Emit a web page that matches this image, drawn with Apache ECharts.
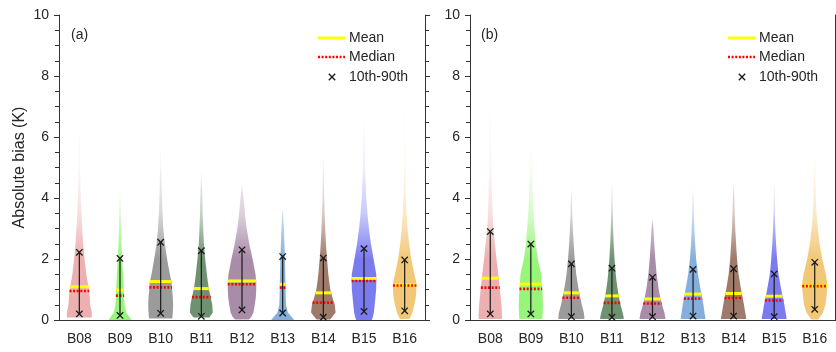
<!DOCTYPE html>
<html><head><meta charset="utf-8">
<script src="https://cdn.jsdelivr.net/npm/echarts@6/dist/echarts.min.js"></script>
<style>html,body{margin:0;padding:0;background:#fff}#c{width:836px;height:352px}</style>
</head><body><div id="c"></div><script>
// ---------------- data ----------------
const categories = ['B08','B09','B10','B11','B12','B13','B14','B15','B16'];
const yMin = 0, yMax = 10, yInterval = 2;
const bandColors = ['#ecb0b0','#98f57c','#9b9b9b','#6e9270','#a98ca8','#85aedb','#9e7a6a','#7b7bf0','#f2c878'];
// y levels at which violin densities were read
const densityLevels = [0,0.1,0.25,0.5,0.75,1,1.25,1.5,2,2.5,3,3.5,4,5,6,7,8];

// panel (a)
const aP10    = [0.20,0.15,0.22,0.12,0.33,0.23,0.09,0.28,0.30];
const aP90    = [2.22,2.02,2.55,2.27,2.30,2.08,2.03,2.34,1.97];
const aMean   = [1.09,0.98,1.26,1.03,1.28,1.17,0.89,1.36,1.15];
const aMedian = [0.95,0.80,1.07,0.75,1.17,1.06,0.57,1.28,1.13];
const aMin    = [0.08,0.00,0.05,0.08,0.02,0.00,0.02,0.00,0.03];
const aMax    = [6.1,4.4,5.7,4.9,4.4,3.6,5.4,6.6,7.4];
const aDensity = [
  [12,12,12,10.5,10,9.3,8,6.7,5,3.7,2.8,2,1.3,0.6,0.3],
  [11,9,6,4.4,4,3.8,3.4,3,2,1.5,1,0.7,0.4],
  [11,11.3,11.7,12,11.7,11,10.5,8.8,6.2,4,2.5,1.8,1.2,0.5],
  [7,8,11,10.5,9,7.3,6.3,5.3,3.7,2.5,1.8,1.3,1],
  [6,9,11,12.3,13.3,13.7,13.7,13,10.2,7,4.5,2.8,1.5],
  [11,8.7,5,3.2,3,2.8,2.7,2.5,2.2,1.7,1.2,0.5],
  [6,8.5,11.8,11,8.7,6.7,5.7,4.8,3.5,2.5,1.8,1.3,0.8,0.4],
  [7.5,8.5,9.5,10.3,11,11.7,11.9,11.8,9.2,6.7,4.7,3.3,2.2,1,0.5],
  [4,5.5,7.5,9.3,10.7,11.3,11.2,9.3,6.3,4.3,2.8,1.8,1.2,0.6,0.3,0.15]
];

// panel (b)
const bP10    = [0.20,0.20,0.11,0.09,0.11,0.13,0.13,0.11,0.35];
const bP90    = [2.90,2.49,1.84,1.70,1.40,1.66,1.68,1.51,1.89];
const bMean   = [1.37,1.18,0.89,0.79,0.69,0.85,0.87,0.78,1.12];
const bMedian = [1.06,1.02,0.73,0.56,0.54,0.70,0.72,0.64,1.11];
const bMin    = [0.03,0.03,0.03,0.03,0.03,0.03,0.03,0.03,0.02];
const bMax    = [8.0,5.6,4.3,4.6,3.3,4.4,4.5,4.5,5.5];
const bDensity = [
  [11.3,11.3,11.2,10.8,10,9.3,8.5,7.8,6,4.5,3,2.2,1.7,1,0.6,0.3],
  [11,11.2,11.5,11.7,11.5,11,10.5,10,6.7,4.7,3.5,2.5,1.8,0.8],
  [12.5,12.5,12,10,8.5,7,5.8,4.7,3.2,2.2,1.4,0.8,0.4],
  [11.3,11.3,10.3,8.3,6.8,5.5,4.5,3.7,2.5,1.7,1.1,0.7,0.4],
  [12.5,12.3,11.5,9.2,7.5,6,5,4,2.7,1.7,1],
  [12,11.8,11,10,8.6,7.3,6,4.7,3,2,1.3,0.8,0.4],
  [12.2,12,11.2,10,8.6,7.2,6,4.8,3.3,2.4,1.6,1.1,0.7],
  [12,11.8,11,9.8,8.3,6.8,5.5,4.2,2.8,1.8,1.1,0.6,0.35],
  [3,5,8,10.3,11.3,12,12,10.7,7.3,4.7,3,1.8,1.1,0.5]
];

// ---------------- helpers ----------------
const FONT = 'Liberation Sans, Arial, Helvetica, sans-serif';
const TXT = '#262626';
const AXC = '#333333';
const DMAX = 13.7;          // largest density value -> widest violin
const MAX_HALF = 0.35;      // widest half-width as a fraction of the band

function hexToRgb(h){ const n=parseInt(h.slice(1),16); return [(n>>16)&255,(n>>8)&255,n&255]; }
function rgba(h,a){ const c=hexToRgb(h); return 'rgba('+c[0]+','+c[1]+','+c[2]+','+a+')'; }

function profile(dens, minV, maxV){
  const pts = [];
  for (let k=0;k<dens.length;k++){ if (densityLevels[k] < maxV) pts.push([densityLevels[k], dens[k]]); }
  pts.push([maxV, 0]);
  return pts;
}
function densAt(pts, y){
  if (y <= pts[0][0]) return pts[0][1];
  for (let k=1;k<pts.length;k++){
    if (y <= pts[k][0]){
      const t=(y-pts[k-1][0])/(pts[k][0]-pts[k-1][0]);
      return pts[k-1][1]+t*(pts[k][1]-pts[k-1][1]);
    }
  }
  return 0;
}

function makeRender(P10,P90,MEAN,MED,MIN,MAX,DENS){
  return function(params, api){
    const i = params.dataIndex;
    const idx = api.value(0);
    const cx = api.coord([idx, 0])[0];
    const band = api.size([1, 0])[0];
    const scale = MAX_HALF*band/DMAX;
    const pts = profile(DENS[i], MIN[i], MAX[i]);
    const ys = [MIN[i]];
    pts.forEach(p => { if (p[0] > MIN[i]) ys.push(p[0]); });
    const right = [], left = [];
    ys.forEach(y => {
      const hw = densAt(pts, y)*scale;
      const py = api.coord([idx, y])[1];
      right.push([cx+hw, py]);
      left.unshift([cx-hw, py]);
    });
    const col = bandColors[i];
    const gy0 = api.coord([idx, 2.0])[1], gy1 = api.coord([idx, 8.0])[1];
    const fill = new echarts.graphic.LinearGradient(0, gy0, 0, gy1, [
      {offset:0, color: rgba(col,1)},
      {offset:0.25, color: rgba(col,0.4)},
      {offset:0.5, color: rgba(col,0.13)},
      {offset:1, color: rgba(col,0.02)}
    ], true);
    const children = [{
      type:'polygon', shape:{points: right.concat(left)}, style:{fill: fill}, silent:true
    }];
    const hline = (v, style) => {
      const hw = densAt(pts, v)*scale;
      const py = api.coord([idx, v])[1];
      children.push({type:'line', shape:{x1:cx-hw, y1:py, x2:cx+hw, y2:py}, style: style, silent:true});
    };
    hline(MEAN[i], {stroke:'#ffff00', lineWidth:3});
    hline(MED[i], {stroke:'#ff0000', lineWidth:2.6, lineDash:[2,1.6]});
    const y10 = api.coord([idx, P10[i]])[1], y90 = api.coord([idx, P90[i]])[1];
    children.push({type:'line', shape:{x1:cx, y1:y10, x2:cx, y2:y90}, style:{stroke:'#1a1a1a', lineWidth:1.2}, silent:true});
    const s = 3.2;
    [y10, y90].forEach(py => {
      children.push({type:'line', shape:{x1:cx-s, y1:py-s, x2:cx+s, y2:py+s}, style:{stroke:'#1a1a1a', lineWidth:1.3}, silent:true});
      children.push({type:'line', shape:{x1:cx-s, y1:py+s, x2:cx+s, y2:py-s}, style:{stroke:'#1a1a1a', lineWidth:1.3}, silent:true});
    });
    return {type:'group', children: children};
  };
}

function xAxes(gi){
  return [{
    type:'category', gridIndex:gi, data:categories, position:'bottom', boundaryGap:true,
    axisLine:{lineStyle:{color:AXC}}, axisTick:{alignWithLabel:true, length:5, lineStyle:{color:AXC}},
    axisLabel:{color:TXT, fontSize:14, fontFamily:FONT, margin:12}, splitLine:{show:false}
  },{
    type:'category', gridIndex:gi, data:categories, position:'top', boundaryGap:true,
    axisLine:{lineStyle:{color:AXC}}, axisTick:{alignWithLabel:true, length:5, lineStyle:{color:AXC}},
    axisLabel:{show:false}, splitLine:{show:false}
  }];
}
function yAxes(gi, withName){
  const base = {
    type:'value', gridIndex:gi, min:yMin, max:yMax, interval:yInterval,
    axisLine:{show:true, lineStyle:{color:AXC}}, axisTick:{show:true, length:5, lineStyle:{color:AXC}},
    minorTick:{show:true, splitNumber:4, length:4, lineStyle:{color:AXC}},
    splitLine:{show:false}
  };
  const left = Object.assign({}, base, {position:'left',
    axisLabel:{color:TXT, fontSize:14, fontFamily:FONT, margin:10}});
  if (withName){
    Object.assign(left, {name:'Absolute bias (K)', nameLocation:'middle', nameGap:31,
      nameTextStyle:{color:TXT, fontSize:16, fontFamily:FONT}});
  }
  const right = Object.assign({}, base, {position:'right', axisLabel:{show:false}});
  return [left, right];
}

function legendGraphics(dx){
  const g = [];
  g.push({type:'line', shape:{x1:318+dx, y1:38, x2:345+dx, y2:38}, style:{stroke:'#ffff00', lineWidth:3}});
  g.push({type:'line', shape:{x1:318+dx, y1:57, x2:345+dx, y2:57}, style:{stroke:'#ff0000', lineWidth:2.6, lineDash:[2,1.6]}});
  const cx = 332+dx, cy = 77, s = 3.2;
  g.push({type:'line', shape:{x1:cx-s, y1:cy-s, x2:cx+s, y2:cy+s}, style:{stroke:'#1a1a1a', lineWidth:1.3}});
  g.push({type:'line', shape:{x1:cx-s, y1:cy+s, x2:cx+s, y2:cy-s}, style:{stroke:'#1a1a1a', lineWidth:1.3}});
  [['Mean',38],['Median',57],['10th-90th',77]].forEach(t => {
    g.push({type:'text', x:349+dx, y:t[1], style:{text:t[0], fill:TXT, fontSize:14, fontFamily:FONT, verticalAlign:'middle', align:'left'}});
  });
  return g;
}

const chart = echarts.init(document.getElementById('c'), null, {renderer:'canvas'});
const dataIdx = categories.map((c,i)=>[i]);
chart.setOption({
  animation:false,
  backgroundColor:'#fff',
  grid:[
    {left:59, right:411, top:15, bottom:32},
    {left:470, right:1, top:15, bottom:32}
  ],
  xAxis: xAxes(0).concat(xAxes(1)),
  yAxis: yAxes(0,true).concat(yAxes(1,false)),
  series:[
    {type:'custom', xAxisIndex:0, yAxisIndex:0, data:dataIdx, encode:{x:0},
      renderItem: makeRender(aP10,aP90,aMean,aMedian,aMin,aMax,aDensity)},
    {type:'custom', xAxisIndex:2, yAxisIndex:2, data:dataIdx, encode:{x:0},
      renderItem: makeRender(bP10,bP90,bMean,bMedian,bMin,bMax,bDensity)}
  ],
  graphic: [
    {type:'text', x:71, y:35, style:{text:'(a)', fill:TXT, fontSize:14, fontFamily:FONT, verticalAlign:'middle'}},
    {type:'text', x:481, y:35, style:{text:'(b)', fill:TXT, fontSize:14, fontFamily:FONT, verticalAlign:'middle'}}
  ].concat(legendGraphics(0)).concat(legendGraphics(410))
});
</script></body></html>
